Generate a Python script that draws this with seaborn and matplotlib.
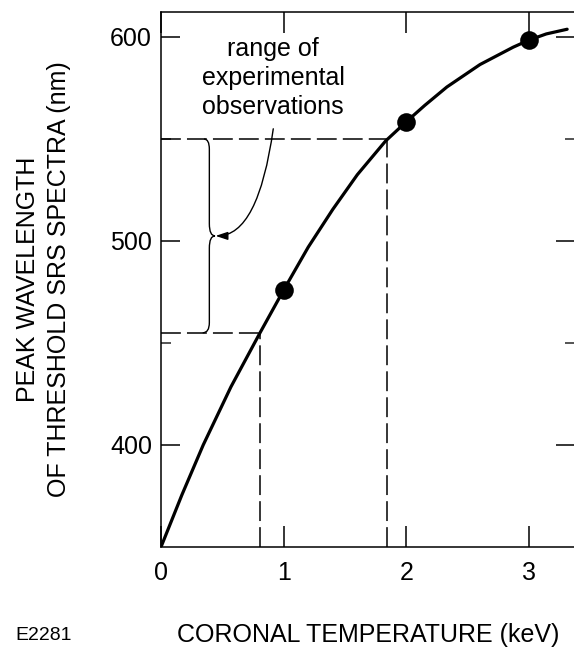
import numpy as np
import pandas as pd
import matplotlib
matplotlib.use("Agg")
import matplotlib.pyplot as plt
from matplotlib.path import Path
from matplotlib.patches import PathPatch
import seaborn as sns

# ---- data ----
temp_curve = [0.0, 0.17, 0.344, 0.57, 0.807, 1.00, 1.20, 1.40, 1.60, 1.83, 2.00,
              2.15, 2.33, 2.60, 2.87, 3.00, 3.14, 3.31]
wave_curve = [350.0, 375.5, 400.0, 428.5, 455.0, 476.0, 497.0, 515.5, 532.5, 549.0, 558.5,
              566.5, 575.5, 586.5, 595.0, 598.5, 601.5, 603.8]

temp_points = [1.0, 2.0, 3.0]
wave_points = [476.0, 558.5, 598.5]

range_wave = [455.0, 550.0]      # range of experimental observations (nm)
range_temp = [0.807, 1.84]       # corresponding coronal temperatures (keV)

x_ticks = [0, 1, 2, 3]
y_ticks = [400, 500, 600]
y_minor = [450, 550]

sns.set_theme(style="ticks")
plt.rcParams["font.family"] = ["Liberation Sans", "DejaVu Sans"]

fig = plt.figure(figsize=(5.74, 6.48), dpi=100)
W, H = 574, 648
ax = fig.add_axes([161 / W, (H - 547) / H, (575 - 161) / W, (547 - 12) / H])

curve_df = pd.DataFrame({"T": temp_curve, "L": wave_curve})
pts_df = pd.DataFrame({"T": temp_points, "L": wave_points})

sns.lineplot(data=curve_df, x="T", y="L", ax=ax, color="black", lw=2.3,
             sort=False, estimator=None, zorder=3)
sns.scatterplot(data=pts_df, x="T", y="L", ax=ax, color="black", s=180,
                edgecolor="black", linewidth=0, zorder=4)

# dashed guide lines
dash = dict(color="black", lw=1.1, linestyle=(0, (13, 4)), zorder=2)
for t, w in zip(range_temp, range_wave):
    ax.plot([0, t], [w, w], **dash)
    ax.plot([t, t], [350, w], **dash)

# curly brace marking the range
lo, hi = range_wave
mid = (lo + hi) / 2
xb, xt = 0.394, 0.44
verts = [(0.35, hi), (xb, hi), (xb, hi - 5),
         (xb, mid + 6),
         (xb, mid), (xt, mid),
         (xb, mid), (xb, mid - 6),
         (xb, lo + 5),
         (xb, lo), (0.34, lo)]
codes = [Path.MOVETO, Path.CURVE3, Path.CURVE3,
         Path.LINETO,
         Path.CURVE3, Path.CURVE3,
         Path.CURVE3, Path.CURVE3,
         Path.LINETO,
         Path.CURVE3, Path.CURVE3]
ax.add_patch(PathPatch(Path(verts, codes), fill=False, lw=1.0, color="black", zorder=3))

ax.text(0.913, 580.0, "range of\nexperimental\nobservations", ha="center", va="center",
        fontsize=18, linespacing=1.25, color="black")
ax.annotate("", xy=(xt + 0.005, mid), xytext=(0.915, 555),
            arrowprops=dict(arrowstyle="-|>,head_length=0.6,head_width=0.2",
                            connectionstyle="angle3,angleA=-98,angleB=0",
                            lw=1.0, color="black", shrinkA=0, shrinkB=0))

ax.set_xlim(0, 3.374)
ax.set_ylim(350, 612.25)
ax.set_xticks(x_ticks)
ax.set_xticklabels([str(v) for v in x_ticks])
ax.set_yticks(y_ticks)
ax.set_yticklabels([str(v) for v in y_ticks])
ax.set_yticks(y_minor, minor=True)

ax.tick_params(axis="x", which="major", direction="in", length=15, width=1.1,
               top=True, bottom=True, labelsize=18, pad=10, colors="black")
ax.tick_params(axis="y", which="major", direction="in", length=13.7, width=1.1,
               left=True, right=True, labelsize=18, pad=6.5, colors="black")
ax.tick_params(axis="y", which="minor", direction="in", length=7.2, width=1.1,
               left=True, right=True)

for s in ax.spines.values():
    s.set_linewidth(1.1)
    s.set_color("black")
ax.spines["right"].set_visible(False)

ax.set_xlabel("CORONAL TEMPERATURE (keV)", fontsize=18, color="black")
ax.xaxis.set_label_coords(0.5, -(635 - 547) / 535)
ax.xaxis.label.set_va("center")

ax.set_ylabel("PEAK WAVELENGTH\nOF THRESHOLD SRS SPECTRA (nm)", fontsize=18,
              color="black", linespacing=1.42)
ax.yaxis.set_label_coords((43.5 - 161) / 414, 0.5)
ax.yaxis.label.set_va("center")

fig.text(15 / W, 1 - 635 / H, "E2281", fontsize=14, ha="left", va="center", color="black")

fig.savefig("out.png", dpi=100)
